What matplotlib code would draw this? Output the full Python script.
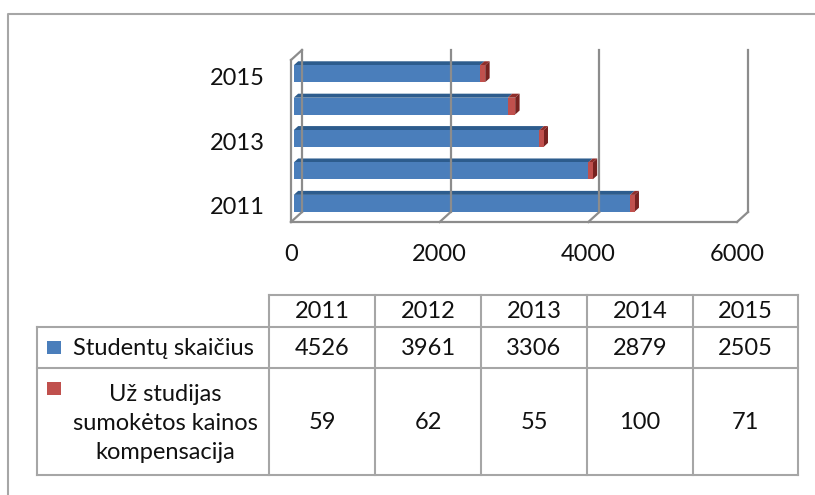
import matplotlib.pyplot as plt
from matplotlib.patches import Polygon, Rectangle

# data
years = ['2011', '2012', '2013', '2014', '2015']
students = [4526, 3961, 3306, 2879, 2505]
compensation = [59, 62, 55, 100, 71]
series_names = ['Studentų skaičius', 'Už studijas\nsumokėtos kainos\nkompensacija']
x_ticks = [0, 2000, 4000, 6000]
y_tick_idx = [0, 2, 4]

plt.rcParams['font.family'] = ['Lato', 'DejaVu Sans']
plt.rcParams['font.size'] = 17

blue, blue_top = '#4a7ebb', '#2d5c8d'
red, red_top, red_side = '#c0504d', '#8f2d2a', '#772220'
grey = '#8c8c8c'
txt = '#111111'

W, H = 815, 495
fig = plt.figure(figsize=(W / 100, H / 100), dpi=100)

# outer chart frame (only top and left edges visible)
frame = fig.add_axes([0, 0, 1, 1])
frame.set_xlim(0, W)
frame.set_ylim(H, 0)
frame.axis('off')
frame.plot([8, 8, W + 5], [H + 5, 14, 14], color='#a6a6a6', lw=1.5)

# ---- 3D bar chart ----
x0, x1 = 291, 790          # pixel of value 0 on front plane, right edge of axes
y_floor, y_top = 222, 30
px_val = (737 - 291) / 6000
px_cat = 32.4
ax = fig.add_axes([x0 / W, 1 - y_floor / H, (x1 - x0) / W, (y_floor - y_top) / H])
ax.set_xlim(0, (x1 - x0) / px_val)
ax.set_ylim(-0.5, -0.5 + (y_floor - y_top) / px_cat)
for s in ax.spines.values():
    s.set_visible(False)

DX = 11 / px_val   # depth shift in value units
DY = 10 / px_cat   # depth shift in category units
ncat = len(years)
lo, hi = -0.5, ncat - 0.5

# walls and gridlines
lw = 1.6
ax.plot([0, 0], [lo, hi], color=grey, lw=lw, clip_on=False)
ax.plot([0, DX], [hi, hi + DY], color=grey, lw=lw, clip_on=False)
ax.plot([0, x_ticks[-1]], [lo, lo], color=grey, lw=lw, clip_on=False)
for v in x_ticks:
    ax.plot([v + DX, v + DX], [lo + DY, hi + DY], color=grey, lw=lw, clip_on=False)
    ax.plot([v, v + DX], [lo, lo + DY], color=grey, lw=lw, clip_on=False)

# bars
tf, tb = 0.25, 0.65
h = 0.52
bdx, bdy = (tb - tf) * DX, (tb - tf) * DY
for i in range(ncat):
    yc = i + tf * DY
    left = tf * DX
    s, c = students[i], compensation[i]
    top = yc + h / 2
    ax.add_patch(Polygon([(left, top), (left + s, top), (left + s + bdx, top + bdy), (left + bdx, top + bdy)],
                         closed=True, facecolor=blue_top, edgecolor='none'))
    ax.add_patch(Polygon([(left + s, top), (left + s + c, top), (left + s + c + bdx, top + bdy), (left + s + bdx, top + bdy)],
                         closed=True, facecolor=red_top, edgecolor='none'))
    r = left + s + c
    ax.add_patch(Polygon([(r, yc - h / 2), (r, top), (r + bdx, top + bdy), (r + bdx, yc - h / 2 + bdy)],
                         closed=True, facecolor=red_side, edgecolor='none'))
    ax.barh(yc, s, left=left, height=h, color=blue)
    ax.barh(yc, c, left=left + s, height=h, color=red)

ax.set_xticks(x_ticks)
ax.set_xticklabels([str(v) for v in x_ticks], color=txt)
ax.set_yticks(y_tick_idx)
ax.set_yticklabels([years[k] for k in y_tick_idx], color=txt)
ax.tick_params(axis='x', length=0, pad=16)
ax.tick_params(axis='y', length=0, pad=19)
ax.patch.set_alpha(0)

# ---- data table ----
cols = [269, 375, 481, 587, 693, 798]
rows = [295, 327, 368, 475]
tleft = 37
tc = '#a6a6a6'
tl = 1.5
frame.plot([cols[0], cols[-1]], [rows[0], rows[0]], color=tc, lw=tl)
for yy in rows[1:]:
    frame.plot([tleft, cols[-1]], [yy, yy], color=tc, lw=tl)
for xx in cols:
    frame.plot([xx, xx], [rows[0], rows[-1]], color=tc, lw=tl)
frame.plot([tleft, tleft], [rows[1], rows[-1]], color=tc, lw=tl)

for j, yr in enumerate(years):
    cx = (cols[j] + cols[j + 1]) / 2
    frame.text(cx, (rows[0] + rows[1]) / 2 + 1, yr, ha='center', va='center', color=txt)
    frame.text(cx, (rows[1] + rows[2]) / 2 + 1, str(students[j]), ha='center', va='center', color=txt)
    frame.text(cx, (rows[2] + rows[3]) / 2 + 1, str(compensation[j]), ha='center', va='center', color=txt)

# legend keys + series names
frame.add_patch(Rectangle((47, 341), 14, 13, facecolor=blue, edgecolor='none'))
frame.add_patch(Rectangle((47, 382), 14, 13, facecolor=red, edgecolor='none'))
frame.text(163, (rows[1] + rows[2]) / 2 + 1, series_names[0], ha='center', va='center', color=txt)
frame.text(165, (rows[2] + rows[3]) / 2 + 2, series_names[1], ha='center', va='center',
           color=txt, multialignment='center', linespacing=1.45)

fig.savefig('out.png', dpi=100)
